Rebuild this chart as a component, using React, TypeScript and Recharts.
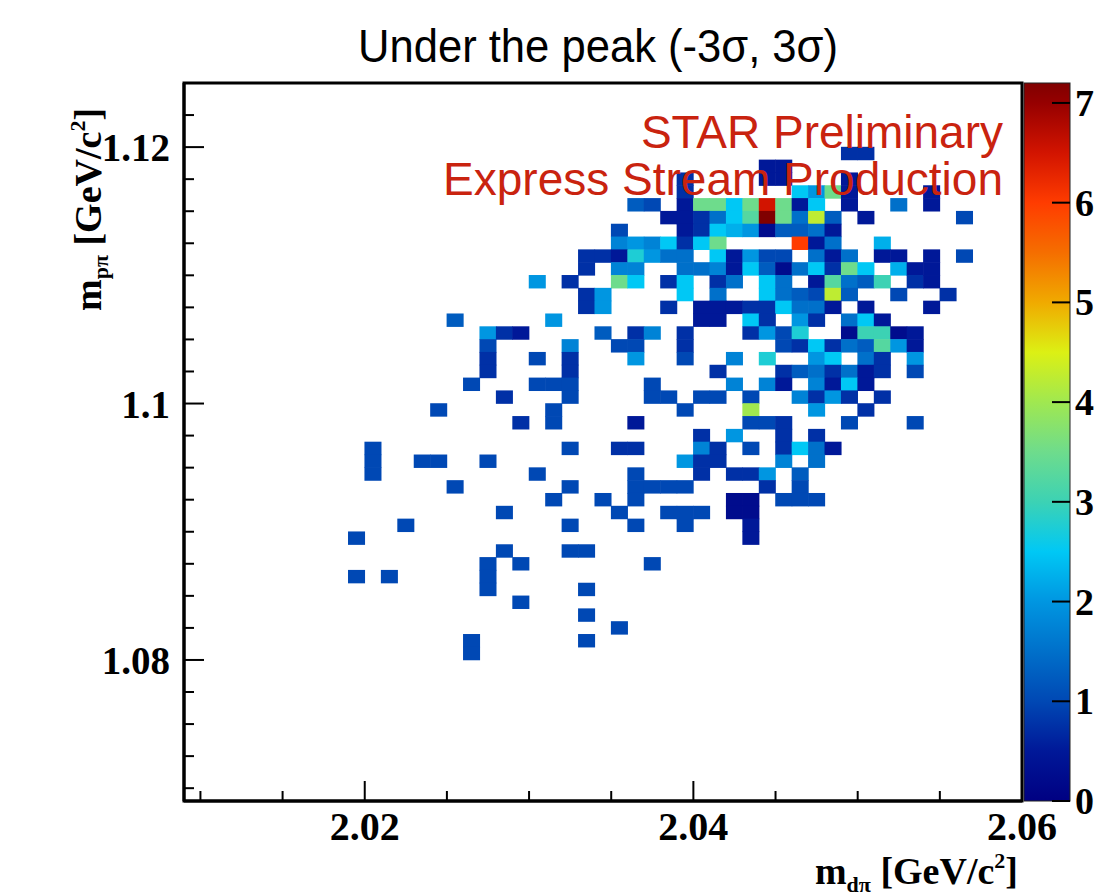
import React from "react";
import { ScatterChart, Scatter, XAxis, YAxis, ReferenceArea } from "recharts";

// Axis ranges (GeV/c^2)
const X_DOMAIN: [number, number] = [2.009, 2.06];
const Y_DOMAIN: [number, number] = [1.069, 1.125];
const Z_MAX = 7.2;

// Histogram binning: first column starts at 2.019, first row ends at 1.120
const BIN_X_START = 2.019;
const BIN_Y_TOP = 1.12;
const BIN = 0.001;

const X_TICKS = [2.01, 2.015, 2.02, 2.025, 2.03, 2.035, 2.04, 2.045, 2.05, 2.055, 2.06];
const X_MAJOR = [2.02, 2.04, 2.06];
const Y_TICKS = [
  1.07, 1.0725, 1.075, 1.0775, 1.08, 1.0825, 1.085, 1.0875, 1.09, 1.0925, 1.095, 1.0975,
  1.1, 1.1025, 1.105, 1.1075, 1.11, 1.1125, 1.115, 1.1175, 1.12, 1.1225,
];
const Y_MAJOR = [1.08, 1.1, 1.12];
const Z_TICKS = [0, 1, 2, 3, 4, 5, 6, 7];

// Bin contents, one string per row from the top (1.120) down, one char per column from 2.019.
// "." = empty bin, otherwise base-36 digit = content in quarters (4 -> 1.0, 8 -> 2.0, g -> 4.0 ...)
const ROWS = [
  "..........|..........|..........|33.......",
  "..........|..........|.....22...|.........",
  "..........|..........|3....22...|2........",
  "..........|..........|3......a8e|2....2...",
  "..........|.......54.|2eeaeqe2a.|2..6.2...",
  "..........|.........2|236adte6h5|.2.....4.",
  "..........|......4...|23a9815562|.........",
  "..........|......787a|3ae....o26|..9......",
  "..........|....332b86|6.a2844.62|6.22.2.4.",
  "..........|....3.77..|6672a516a3|ea.922...",
  "..........|.8.3..ea.3|a.36.a6.2d|65c.32...",
  "..........|....38....|a.6..a654h|5..4..3..",
  "..........|....38...3|.22233a662|.2...2...",
  "......5...|..8.......|.22.a3.83.|6a2......",
  "........83|2....5.37.|3...384b..|1cc12....",
  "........4.|...7..44..|3.....43a3|65d82....",
  "........3.|.4.3...8..|4..7.b..8a|.63.8....",
  "........3.|...3......|..3...3563|623.4....",
  ".......4..|.444....4.|...7.72.72|a2.......",
  ".........3|...4....44|.44.4..738|3.3......",
  ".....4....|..4.......|4...g...8.|.3.......",
  "..........|3.4....2..|....443...|4...4....",
  "..........|..........|.3.8..3.3.|.........",
  ".4........|...4..33..|.73.4.3a62|.........",
  ".4..44..4.|..........|833...7.6.|.........",
  ".4........|.4.....4..|.3.338.5..|.........",
  "......4...|...4...444|4....3.4..|.........",
  "..........|..4..4.4..|...11.444.|.........",
  ".........4|......4..4|44.11.....|.........",
  "...4......|...4...4..|4...2.....|.........",
  "4.........|..........|....2.....|.........",
  ".........4|...44.....|..........|.........",
  "........4.|4.......4.|..........|.........",
  "4.4.....4.|..........|..........|.........",
  "........4.|....4.....|..........|.........",
  "..........|4.........|..........|.........",
  "..........|....4.....|..........|.........",
  "..........|......4...|..........|.........",
  ".......4..|....4.....|..........|.........",
  ".......4..|..........|..........|.........",
];

// colour palette (value -> rgb)
const PALETTE: [number, number, number, number][] = [
  [0, 0, 0, 130],
  [0.5, 0, 24, 152],
  [1, 0, 72, 180],
  [1.5, 0, 112, 202],
  [2, 0, 150, 225],
  [2.5, 0, 200, 245],
  [3, 60, 210, 180],
  [3.5, 110, 220, 140],
  [4, 160, 232, 80],
  [4.5, 220, 240, 20],
  [5, 240, 170, 0],
  [5.5, 245, 110, 0],
  [6, 255, 60, 0],
  [6.5, 210, 20, 0],
  [7, 150, 0, 0],
  [7.2, 128, 0, 0],
];

const W = 1097;
const H = 896;
const PLOT = { left: 184, right: 1022, top: 83, bottom: 801 };
const CELL_W = ((PLOT.right - PLOT.left) / (X_DOMAIN[1] - X_DOMAIN[0])) * BIN;
const CELL_H = ((PLOT.bottom - PLOT.top) / (Y_DOMAIN[1] - Y_DOMAIN[0])) * BIN;

const SERIF = "'Liberation Serif', 'DejaVu Serif', serif";
const SANS = "'Liberation Sans', Arial, sans-serif";
const RED = "#c9230f";

function zColor(z: number) {
  const v = Math.max(0, Math.min(Z_MAX, z));
  for (let i = 1; i < PALETTE.length; i++) {
    const [z1, r1, g1, b1] = PALETTE[i];
    if (v <= z1) {
      const [z0, r0, g0, b0] = PALETTE[i - 1];
      const t = (v - z0) / (z1 - z0);
      return `rgb(${Math.round(r0 + (r1 - r0) * t)},${Math.round(g0 + (g1 - g0) * t)},${Math.round(b0 + (b1 - b0) * t)})`;
    }
  }
  return "rgb(128,0,0)";
}

const cells = ROWS.flatMap((row, r) =>
  row
    .replace(/\|/g, "")
    .split("")
    .map((ch, c) =>
      ch === "."
        ? null
        : {
            x: BIN_X_START + (c + 0.5) * BIN,
            y: BIN_Y_TOP - (r + 0.5) * BIN,
            z: parseInt(ch, 36) / 4,
          }
    )
    .filter(Boolean)
) as { x: number; y: number; z: number }[];

const isMajor = (list: number[], v: number) => list.some((m) => Math.abs(m - v) < 1e-7);

function BinCell(props: any) {
  const { cx, cy, payload } = props;
  if (cx == null || cy == null) return null;
  return (
    <rect
      x={cx - CELL_W / 2 - 0.3}
      y={cy - CELL_H / 2 - 0.3}
      width={CELL_W + 0.6}
      height={CELL_H + 0.6}
      fill={zColor(payload.z)}
    />
  );
}

function XTick(props: any) {
  const { x, y, payload } = props;
  const major = isMajor(X_MAJOR, payload.value);
  return (
    <g>
      <line x1={x} x2={x} y1={y} y2={y - (major ? 20 : 10)} stroke="#000" strokeWidth={2} />
      {major && (
        <text x={x} y={y + 39} textAnchor="middle" fontFamily={SERIF} fontWeight="bold" fontSize={40} fill="#000">
          {payload.value}
        </text>
      )}
    </g>
  );
}

function YTick(props: any) {
  const { x, y, payload } = props;
  const major = isMajor(Y_MAJOR, payload.value);
  return (
    <g>
      <line x1={x} x2={x + (major ? 20 : 10)} y1={y} y2={y} stroke="#000" strokeWidth={2} />
      {major && (
        <text x={x - 14} y={y + 14} textAnchor="end" fontFamily={SERIF} fontWeight="bold" fontSize={39} fill="#000">
          {payload.value}
        </text>
      )}
    </g>
  );
}

function Overlay() {
  const cb = { left: 1024, right: 1070, top: PLOT.top, bottom: PLOT.bottom };
  const zy = (z: number) => cb.bottom - (z / Z_MAX) * (cb.bottom - cb.top);
  return (
    <svg width={W} height={H} style={{ position: "absolute", left: 0, top: 0, pointerEvents: "none" }}>
      <defs>
        <linearGradient id="zbar" x1="0" y1="1" x2="0" y2="0">
          {PALETTE.map(([z, r, g, b]) => (
            <stop key={z} offset={z / Z_MAX} stopColor={`rgb(${r},${g},${b})`} />
          ))}
        </linearGradient>
      </defs>
      <text
        x={358}
        y={62}
        fontFamily={SANS}
        fontSize={46}
        fill="#000"
        textLength={480}
        lengthAdjust="spacingAndGlyphs"
      >
        Under the peak (-3σ, 3σ)
      </text>
      <text x={1003} y={148} textAnchor="end" fontFamily={SANS} fontSize={46} fill={RED}>
        STAR Preliminary
      </text>
      <text x={1003} y={195} textAnchor="end" fontFamily={SANS} fontSize={46} fill={RED}>
        Express Stream Production
      </text>
      {/* x axis title */}
      <text x={1018} y={884} textAnchor="end" fontFamily={SERIF} fontWeight="bold" fontSize={38} fill="#000">
        m<tspan fontSize={22} dy={8}>dπ</tspan>
        <tspan dy={-8}> [GeV/c</tspan>
        <tspan fontSize={22} dy={-16}>2</tspan>
        <tspan dy={16}>]</tspan>
      </text>
      {/* y axis title */}
      <text
        x={0}
        y={0}
        transform="translate(101 311) rotate(-90)"
        fontFamily={SERIF}
        fontWeight="bold"
        fontSize={38}
        fill="#000"
      >
        m<tspan fontSize={22} dy={7}>pπ</tspan>
        <tspan dy={-7}> [GeV/c</tspan>
        <tspan fontSize={22} dy={-16}>2</tspan>
        <tspan dy={16}>]</tspan>
      </text>
      {/* colour bar */}
      <rect x={cb.left} y={cb.top} width={cb.right - cb.left} height={cb.bottom - cb.top} fill="url(#zbar)" stroke="#222" strokeWidth={1} />
      {Z_TICKS.map((z) => (
        <g key={z}>
          <line x1={cb.right - 18} x2={cb.right} y1={zy(z)} y2={zy(z)} stroke="#000" strokeWidth={2} />
          <text x={cb.right + 5} y={zy(z) + 13} fontFamily={SERIF} fontWeight="bold" fontSize={38} fill="#000">
            {z}
          </text>
        </g>
      ))}
    </svg>
  );
}

export default function App() {
  return (
    <div style={{ position: "absolute", left: 0, top: 0, width: W, height: H, background: "#fff" }}>
      <ScatterChart
        width={W}
        height={H}
        margin={{ top: PLOT.top, right: W - PLOT.right, bottom: H - PLOT.bottom - 60, left: PLOT.left - 80 }}
      >
        <XAxis
          type="number"
          dataKey="x"
          domain={X_DOMAIN}
          allowDataOverflow
          ticks={X_TICKS}
          interval={0}
          tick={<XTick />}
          tickLine={false}
          tickSize={0}
          tickMargin={0}
          height={60}
          axisLine={{ stroke: "#000", strokeWidth: 3 }}
        />
        <YAxis
          type="number"
          dataKey="y"
          domain={Y_DOMAIN}
          allowDataOverflow
          ticks={Y_TICKS}
          interval={0}
          tick={<YTick />}
          tickLine={false}
          tickSize={0}
          tickMargin={0}
          width={80}
          axisLine={{ stroke: "#000", strokeWidth: 3 }}
        />
        <Scatter data={cells} shape={<BinCell />} isAnimationActive={false} />
        <ReferenceArea
          x1={X_DOMAIN[0]}
          x2={X_DOMAIN[1]}
          y1={Y_DOMAIN[0]}
          y2={Y_DOMAIN[1]}
          fill="none"
          fillOpacity={0}
          stroke="#000"
          strokeWidth={3}
        />
      </ScatterChart>
      <Overlay />
    </div>
  );
}
